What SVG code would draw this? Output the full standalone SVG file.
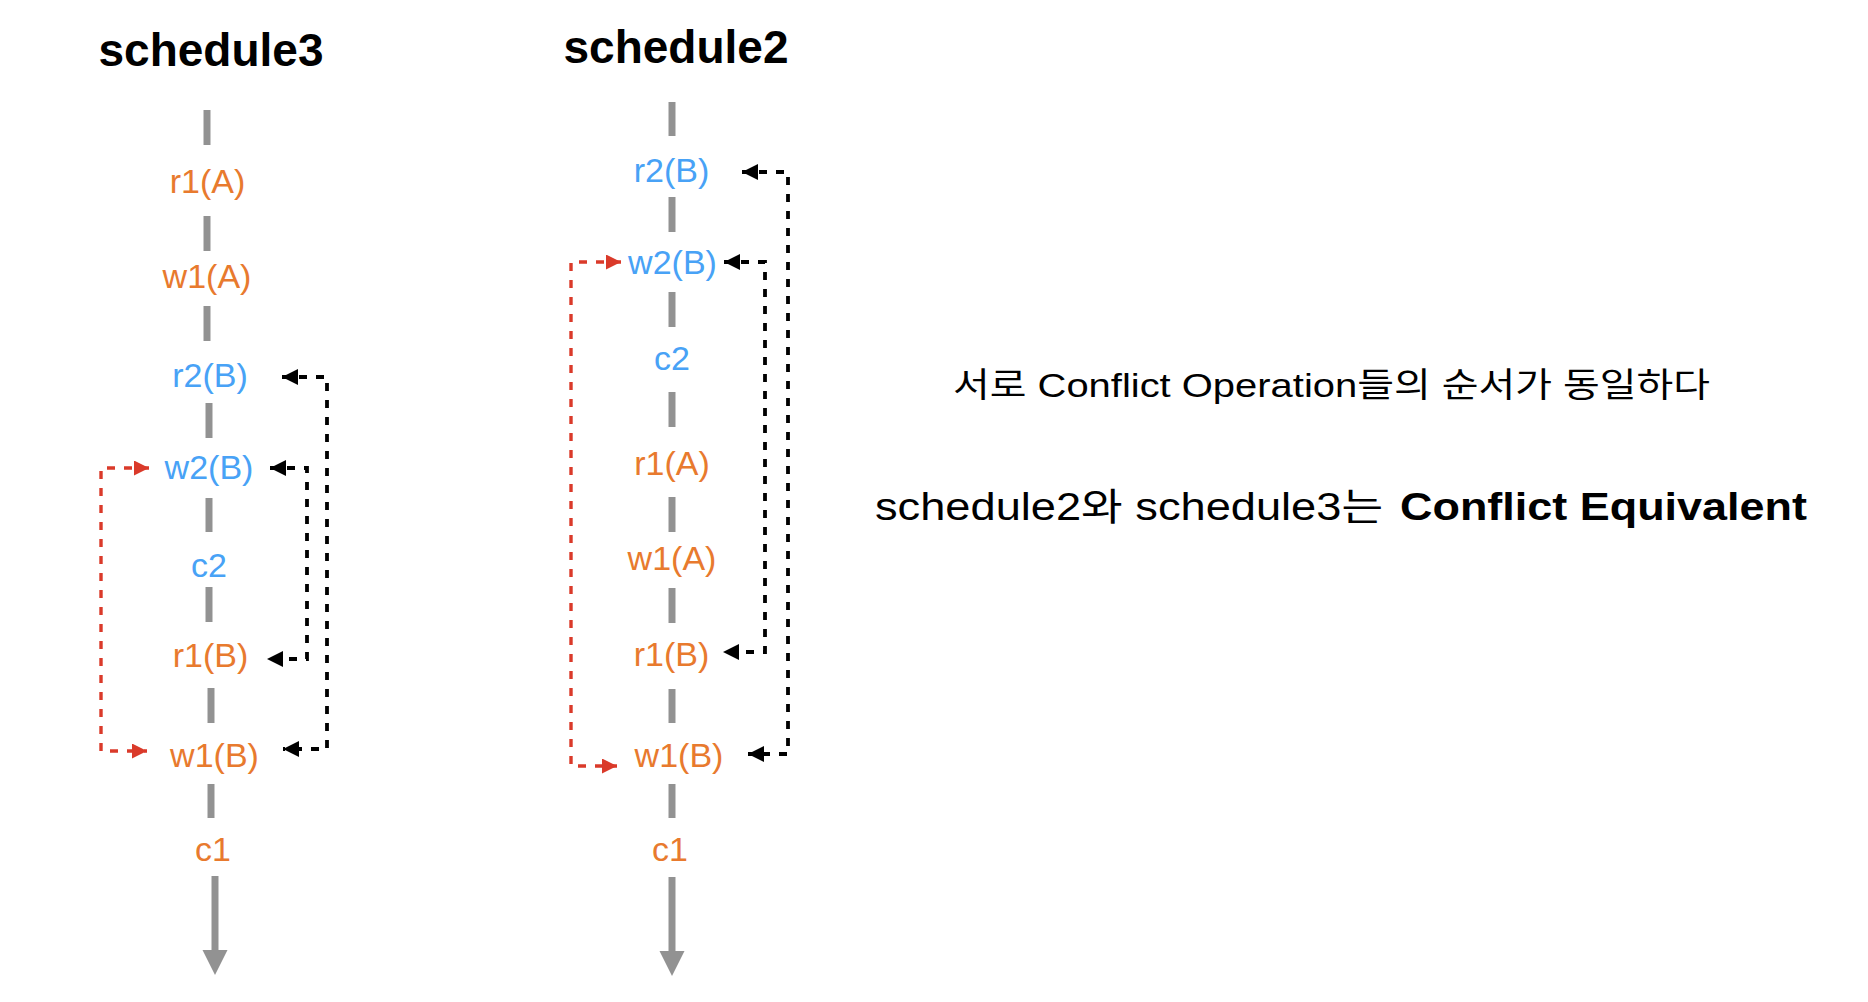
<svg xmlns="http://www.w3.org/2000/svg" width="1868" height="1002" viewBox="0 0 1868 1002">
<style>
.title{font-family:"Liberation Sans",Arial,sans-serif;font-weight:bold;font-size:46px;fill:#000;text-anchor:middle}
.lbl{font-family:"Liberation Sans",Arial,sans-serif;font-size:34px;text-anchor:middle}
.o{fill:#E87A2E}
.b{fill:#48A2F6}
.tl{stroke:#929292;stroke-width:7;fill:none}
.blk{stroke:#000;stroke-width:3.8;fill:none;stroke-dasharray:8 9}
.red{stroke:#DA3A2A;stroke-width:3.4;fill:none;stroke-dasharray:8 9}
.note{font-family:"Liberation Sans","Noto Sans CJK KR",sans-serif;fill:#000}
</style>
<defs>
<marker id="ab" viewBox="0 0 16 16" refX="16" refY="8" markerWidth="16" markerHeight="16" markerUnits="userSpaceOnUse" orient="auto-start-reverse">
<path d="M0,0 L16,8 L0,16 Z" fill="#000"/>
</marker>
<marker id="ar" viewBox="0 0 16 16" refX="16" refY="8" markerWidth="16" markerHeight="15" markerUnits="userSpaceOnUse" orient="auto-start-reverse">
<path d="M0,0 L16,8 L0,16 Z" fill="#DA3A2A"/>
</marker>
</defs>
<rect width="1868" height="1002" fill="#fff"/>

<g id="schedule3">
<text class="title" x="211" y="66">schedule3</text>
<g id="timeline3">
<line class="tl" x1="207" y1="110" x2="207" y2="145"/>
<line class="tl" x1="207" y1="216" x2="207" y2="251"/>
<line class="tl" x1="207" y1="306" x2="207" y2="341"/>
<line class="tl" x1="209" y1="403" x2="209" y2="438"/>
<line class="tl" x1="209" y1="498" x2="209" y2="532"/>
<line class="tl" x1="209" y1="587" x2="209" y2="622"/>
<line class="tl" x1="211" y1="688" x2="211" y2="723"/>
<line class="tl" x1="211" y1="784" x2="211" y2="818"/>
<line class="tl" x1="215" y1="876" x2="215" y2="952"/>
<path d="M202.5,950 L227.5,950 L215,975 Z" fill="#929292"/>
</g>
<g id="s3-r1A"><text class="lbl o" x="207.5" y="193">r1(A)</text></g>
<g id="s3-w1A"><text class="lbl o" x="207" y="288">w1(A)</text></g>
<g id="s3-r2B"><text class="lbl b" x="210" y="387">r2(B)</text></g>
<g id="s3-w2B"><text class="lbl b" x="209" y="479">w2(B)</text></g>
<g id="s3-c2"><text class="lbl b" x="209" y="577">c2</text></g>
<g id="s3-r1B"><text class="lbl o" x="210.5" y="667">r1(B)</text></g>
<g id="s3-w1B"><text class="lbl o" x="214.5" y="767">w1(B)</text></g>
<g id="s3-c1"><text class="lbl o" x="213" y="861">c1</text></g>
</g>

<g id="schedule2">
<text class="title" x="676" y="63">schedule2</text>
<g id="timeline2">
<line class="tl" x1="672" y1="102" x2="672" y2="136"/>
<line class="tl" x1="672" y1="197" x2="672" y2="232"/>
<line class="tl" x1="672" y1="292" x2="672" y2="327"/>
<line class="tl" x1="672" y1="392" x2="672" y2="427"/>
<line class="tl" x1="672" y1="497" x2="672" y2="532"/>
<line class="tl" x1="672" y1="588" x2="672" y2="623"/>
<line class="tl" x1="672" y1="689" x2="672" y2="723"/>
<line class="tl" x1="672" y1="784" x2="672" y2="818"/>
<line class="tl" x1="672" y1="877" x2="672" y2="953"/>
<path d="M659.5,951 L684.5,951 L672,976 Z" fill="#929292"/>
</g>
<g id="s2-r2B"><text class="lbl b" x="671.5" y="182">r2(B)</text></g>
<g id="s2-w2B"><text class="lbl b" x="672.5" y="274">w2(B)</text></g>
<g id="s2-c2"><text class="lbl b" x="672" y="370">c2</text></g>
<g id="s2-r1A"><text class="lbl o" x="672" y="475">r1(A)</text></g>
<g id="s2-w1A"><text class="lbl o" x="672" y="570">w1(A)</text></g>
<g id="s2-r1B"><text class="lbl o" x="671.5" y="666">r1(B)</text></g>
<g id="s2-w1B"><text class="lbl o" x="679" y="767">w1(B)</text></g>
<g id="s2-c1"><text class="lbl o" x="670" y="861">c1</text></g>
</g>

<g id="connectors">
<path class="blk" d="M282,377 H327 V749 H283" marker-start="url(#ab)" marker-end="url(#ab)"/>
<path class="blk" d="M270,468 H307 V659 H267" marker-start="url(#ab)" marker-end="url(#ab)"/>
<path class="red" d="M149,468 H101 V751 H147" marker-start="url(#ar)" marker-end="url(#ar)"/>
<path class="blk" d="M742,172 H788 V754 H748" marker-start="url(#ab)" marker-end="url(#ab)"/>
<path class="blk" d="M724,262 H765 V652 H723" marker-start="url(#ab)" marker-end="url(#ab)"/>
<path class="red" d="M621,262 H571 V766 H617" marker-start="url(#ar)" marker-end="url(#ar)"/>
</g>

<g id="notes">
<text class="note" x="953" y="397" font-size="34" textLength="757" lengthAdjust="spacingAndGlyphs">서로 Conflict Operation들의 순서가 동일하다</text>
<text class="note" x="875" y="520" font-size="38" textLength="508" lengthAdjust="spacingAndGlyphs">schedule2와 schedule3는</text>
<text class="note" x="1400" y="520" font-size="39" font-weight="bold" textLength="407" lengthAdjust="spacingAndGlyphs">Conflict Equivalent</text>
</g>
</svg>
